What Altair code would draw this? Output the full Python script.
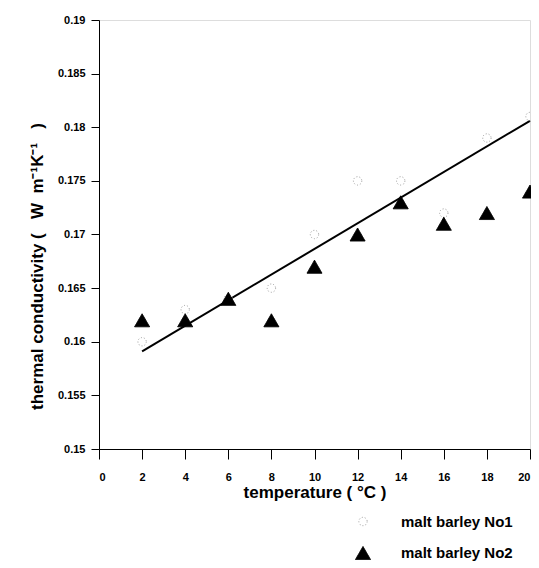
import altair as alt
import pandas as pd

temps = [2, 4, 6, 8, 10, 12, 14, 16, 18, 20]
no1 = [0.160, 0.163, 0.164, 0.165, 0.170, 0.175, 0.175, 0.172, 0.179, 0.181]
no2 = [0.162, 0.162, 0.164, 0.162, 0.167, 0.170, 0.173, 0.171, 0.172, 0.174]
fit_x = [2, 20]
fit_y = [0.1591, 0.1806]
series_names = ["malt barley No1", "malt barley No2"]
y_ticks = [0.15, 0.155, 0.16, 0.165, 0.17, 0.175, 0.18, 0.185, 0.19]
x_ticks = [0, 2, 4, 6, 8, 10, 12, 14, 16, 18, 20]

FONT = "Liberation Sans Narrow, Liberation Sans, Arial, sans-serif"
NB = "\u00a0"

pts = pd.DataFrame(
    {"t": temps * 2, "k": no1 + no2,
     "series": [series_names[0]] * len(temps) + [series_names[1]] * len(temps)}
)
fit = pd.DataFrame({"t": fit_x, "k": fit_y})

xscale = alt.Scale(domain=[0, 20], nice=False, zero=False)
yscale = alt.Scale(domain=[0.15, 0.19], nice=False, zero=False)

xaxis = alt.Axis(values=x_ticks, format="d", title="temperature ( °C )", grid=False,
                 tickSize=10, tickColor="black", domainColor="black", labelPadding=12,
                 labelFont=FONT, labelFontSize=11, labelFontWeight="bold", labelColor="black",
                 titleFont=FONT, titleFontSize=17, titleFontWeight="bold", titleColor="black",
                 titlePadding=2)
ytitle = "thermal conductivity (" + NB * 3 + "W" + NB * 2 + "m⁻¹K⁻¹" + NB * 3 + ")"
yaxis = alt.Axis(values=y_ticks, format=".3~f",
                 title=ytitle, grid=False,
                 tickSize=8, tickColor="black", domainColor="black", labelPadding=6,
                 labelFont=FONT, labelFontSize=11, labelFontWeight="bold", labelColor="black",
                 titleFont=FONT, titleFontSize=17, titleFontWeight="bold", titleColor="black",
                 titlePadding=11, titleY=246)

line = alt.Chart(fit).mark_line(color="black", strokeWidth=2).encode(
    x=alt.X("t:Q", scale=xscale, axis=xaxis),
    y=alt.Y("k:Q", scale=yscale, axis=yaxis),
)

legend = alt.Legend(title=None, orient="none", legendX=256, legendY=494,
                    direction="vertical", symbolSize=230, rowPadding=14,
                    labelFont=FONT, labelFontSize=15, labelFontWeight="bold",
                    labelColor="black", labelOffset=30, symbolStrokeWidth=1,
                    symbolOpacity=1)

points = alt.Chart(pts).mark_point(size=225, strokeWidth=1, opacity=1).encode(
    x=alt.X("t:Q", scale=xscale),
    y=alt.Y("k:Q", scale=yscale),
    shape=alt.Shape("series:N", scale=alt.Scale(domain=series_names, range=["circle", "triangle-up"]), legend=legend),
    fill=alt.Fill("series:N", scale=alt.Scale(domain=series_names, range=["transparent", "black"]), legend=legend),
    stroke=alt.Stroke("series:N", scale=alt.Scale(domain=series_names, range=["#999999", "black"]), legend=legend),
    strokeDash=alt.StrokeDash("series:N", scale=alt.Scale(domain=series_names, range=[[1, 2], [1, 0]]), legend=legend),
    size=alt.Size("series:N", scale=alt.Scale(domain=series_names, range=[70, 225]), legend=legend),
)

chart = alt.layer(line, points).properties(
    width=431, height=429,
    autosize=alt.AutoSizeParams(type="none"),
    padding={"left": 91, "top": 12, "right": 1, "bottom": 114},
).configure_view(stroke=None).configure(background="white")

chart.save("out.html", embed_options={"renderer": "svg", "actions": False})
